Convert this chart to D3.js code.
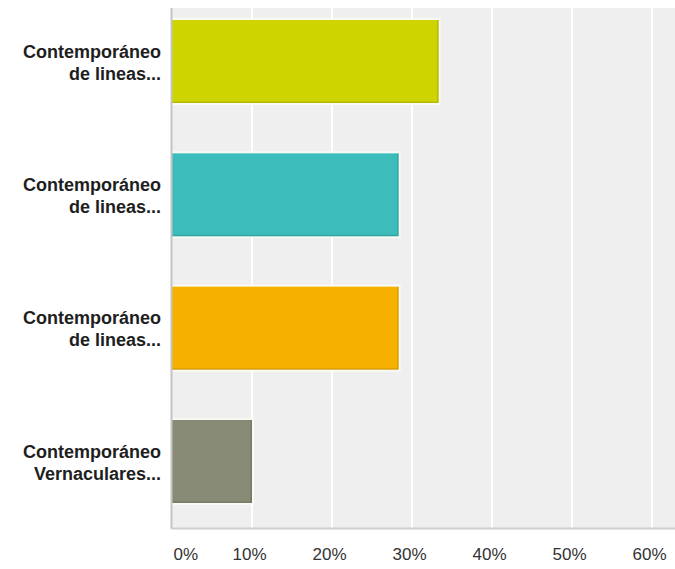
<!DOCTYPE html>
<html>
<head>
<meta charset="utf-8">
<script src="https://cdn.jsdelivr.net/npm/d3@7"></script>
<style>
  html, body { margin: 0; padding: 0; background: #fff; }
  svg { display: block; }
</style>
</head>
<body>
<svg id="chart" width="675" height="569"></svg>
<script>
// ---- data ----
const categories = [
  "Contemporáneo\nde lineas...",
  "Contemporáneo\nde lineas...",
  "Contemporáneo\nde lineas...",
  "Contemporáneo\nVernaculares..."
];
const values = [0.3333, 0.2833, 0.2833, 0.10];
const barColors = ["#cdd400", "#3dbcbc", "#f6b100", "#878a74"];
const tickValues = [0, 0.1, 0.2, 0.3, 0.4, 0.5, 0.6];
const tickLabels = ["0%", "10%", "20%", "30%", "40%", "50%", "60%"];

// ---- layout ----
const W = 675, H = 569;
const plot = { left: 172, top: 8, right: 675, bottom: 528 };
const svg = d3.select("#chart");

const x = d3.scaleLinear().domain([0, 0.7]).range([plot.left, plot.left + 560]);
const y = d3.scaleBand()
  .domain(d3.range(categories.length))
  .range([plot.top, plot.bottom])
  .paddingInner(0.3775)
  .paddingOuter(0.139)
  .align(0.324);

// plot background
svg.append("rect")
  .attr("x", plot.left).attr("y", plot.top)
  .attr("width", plot.right - plot.left).attr("height", plot.bottom - plot.top)
  .attr("fill", "#efefef");

// gridlines
svg.append("g").selectAll("line")
  .data(tickValues.slice(1))
  .join("line")
  .attr("x1", d => x(d)).attr("x2", d => x(d))
  .attr("y1", plot.top).attr("y2", plot.bottom)
  .attr("stroke", "#ffffff").attr("stroke-width", 2);

// bar halos
svg.append("g").selectAll("rect")
  .data(values)
  .join("rect")
  .attr("x", x(0))
  .attr("y", (d, i) => y(i) - 2)
  .attr("width", d => x(d) - x(0) + 2)
  .attr("height", y.bandwidth() + 4)
  .attr("fill", "#fbfbf4")
  .attr("opacity", 0.9);

// bars
svg.append("g").selectAll("rect")
  .data(values)
  .join("rect")
  .attr("x", x(0))
  .attr("y", (d, i) => y(i))
  .attr("width", d => x(d) - x(0))
  .attr("height", y.bandwidth())
  .attr("fill", (d, i) => barColors[i]);

// subtle darker right/bottom edges
svg.append("g").selectAll("path")
  .data(values)
  .join("path")
  .attr("d", (d, i) => {
    const x1 = x(d) - 0.75, yt = y(i), yb = y(i) + y.bandwidth() - 0.75;
    return `M${x(0)},${yb}H${x1}V${yt}`;
  })
  .attr("fill", "none")
  .attr("stroke", "#000")
  .attr("stroke-opacity", 0.12)
  .attr("stroke-width", 1.5);

// left axis line
svg.append("line")
  .attr("x1", plot.left - 0.5).attr("x2", plot.left - 0.5)
  .attr("y1", plot.top).attr("y2", plot.bottom)
  .attr("stroke", "#c4c4c4").attr("stroke-width", 2);

// bottom axis line
svg.append("line")
  .attr("x1", plot.left - 1.5).attr("x2", plot.right)
  .attr("y1", plot.bottom + 0.5).attr("y2", plot.bottom + 0.5)
  .attr("stroke", "#cfcfcf").attr("stroke-width", 2);

// x axis tick labels
const xAxis = d3.axisBottom(x)
  .tickValues(tickValues)
  .tickFormat((d, i) => tickLabels[i])
  .tickSize(0)
  .tickPadding(0);
const gx = svg.append("g")
  .attr("transform", `translate(0, ${plot.bottom + 20})`)
  .call(xAxis);
gx.select(".domain").remove();
gx.selectAll("text")
  .attr("font-family", "'Liberation Sans', Arial, sans-serif")
  .attr("font-size", 17)
  .attr("fill", "#333")
  .attr("dy", "0.71em")
  .attr("dx", (d) => d === 0 ? 0 : -3)
  .attr("text-anchor", d => d === 0 ? "start" : "middle")
  .attr("x", d => d === 0 ? 1 : 0);

// category labels
const labels = svg.append("g")
  .selectAll("text")
  .data(categories)
  .join("text")
  .attr("text-anchor", "end")
  .attr("font-family", "'Liberation Sans', Arial, sans-serif")
  .attr("font-weight", "bold")
  .attr("font-size", 18)
  .attr("fill", "#1e1e1e")
  .attr("transform", (d, i) => `translate(161, ${y(i) + y.bandwidth() / 2 + 1})`);
labels.each(function(d) {
  const lines = d.split("\n");
  const t = d3.select(this);
  lines.forEach((ln, j) => {
    t.append("tspan")
      .attr("x", 0)
      .attr("y", (j - (lines.length - 1) / 2) * 22)
      .attr("dy", "0.35em")
      .text(ln);
  });
});
</script>
</body>
</html>
